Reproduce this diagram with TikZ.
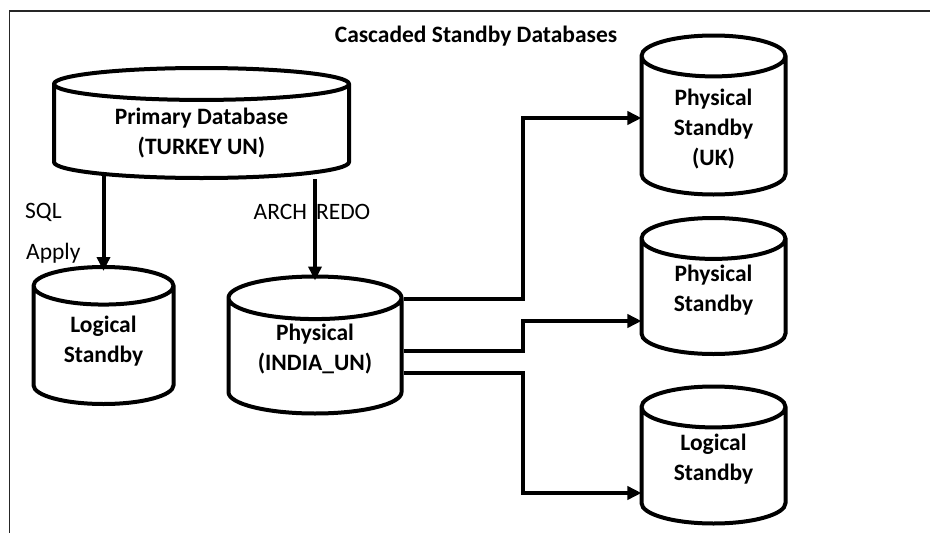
\documentclass[tikz,border=0pt]{standalone}
\usepackage{fontspec}
\setmainfont{Carlito}
\usetikzlibrary{arrows.meta,shapes.geometric,backgrounds}
\tikzset{db/.style={cylinder,shape border rotate=90,draw,line width=4pt,fill=white,
 align=center,font=\bfseries\fontsize{23.5}{30}\selectfont,anchor=shape center,inner sep=2pt},
 lift/.style={text depth=#1},
 arr/.style={-{Triangle[length=14pt,width=13pt]},line width=4pt},
 lbl/.style={font=\fontsize{23.5}{28}\selectfont,inner sep=0pt}}
\begin{document}
\begin{tikzpicture}[x=1pt,y=1pt]
\useasboundingbox (0,0) rectangle (930,-533);
\draw[black!85,line width=1.6pt] (9.5,-533)--(9.5,-11)--(930,-11);
\node[font=\bfseries\fontsize{23.5}{28}\selectfont] (title) at (476,-36) {Cascaded Standby Databases};
% primary and the two first standbys
\node[db,minimum width=295,minimum height=110,aspect=0.18] (prim) at (201.5,-123) {Primary Database\\(TURKEY UN)};
\node[db,minimum width=140,minimum height=137,aspect=0.45,lift=18pt] (lsb) at (103.5,-335.5) {Logical\\Standby};
\node[db,minimum width=173,minimum height=137,aspect=0.36,lift=24pt] (india) at (315,-345) {Physical\\(INDIA\_UN)};
% cascaded standbys
\node[db,minimum width=144,minimum height=159,aspect=0.49] (uk) at (713.5,-115) {Physical\\Standby\\(UK)};
\node[db,minimum width=144,minimum height=136,aspect=0.49,lift=22pt] (psb) at (713.5,-286) {Physical\\Standby};
\node[db,minimum width=144,minimum height=137,aspect=0.49,lift=22pt] (lsb2) at (713.5,-455) {Logical\\Standby};
\node[lbl,anchor=west] (sql) at (25,-212) {SQL};
\node[lbl,anchor=west] (apply) at (26,-253) {Apply};
\node[lbl] (arch) at (312,-212) {ARCH\hspace{9pt}REDO};
\coordinate (ie) at (india.east |- india.shape center);
\coordinate (ukw) at (uk.west |- uk.shape center);
\coordinate (psw) at (psb.west |- psb.shape center);
\coordinate (lsw) at (lsb2.west |- lsb2.shape center);
\draw[arr,shorten >=-6pt] ([yshift=4]prim.south -| lsb.north)--(lsb.north);
\draw[arr,shorten >=-6pt] ([yshift=1]prim.south -| india.north)--(india.north);
\begin{scope}[on background layer]
\draw[arr] ([yshift=46]ie)--++(119,0)|-([yshift=-3,xshift=2]ukw);
\draw[arr] ([yshift=-6]ie)--++(119,0)|-([yshift=-35,xshift=2]psw);
\draw[arr] ([yshift=-28]ie)--++(119,0)|-([yshift=-38,xshift=2]lsw);
\end{scope}
\end{tikzpicture}
\end{document}
